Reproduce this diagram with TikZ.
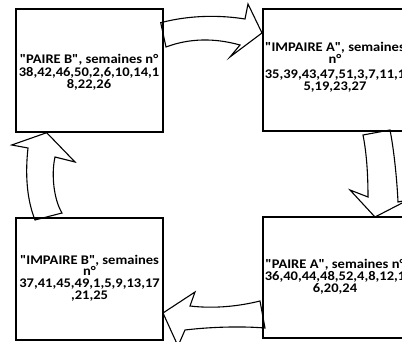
\documentclass[tikz,border=0pt]{standalone}
\usepackage{fontspec}
\setmainfont{Carlito}[FakeStretch=1.1, Ligatures=TeXOff]
\begin{document}
\begin{tikzpicture}[x=1pt,y=-1pt,
  box/.style={draw, line width=1.7pt, minimum width=147pt, minimum height=122pt, inner sep=0pt},
  ln/.style={anchor=base, inner sep=0pt, font=\bfseries\fontsize{13.2}{12}\selectfont},
  blockarrow/.style={draw, line width=1.1pt, line join=miter}]
\useasboundingbox (0,0) rectangle (402,342);
\clip (0,0) rectangle (402,342);
% block arrows (clockwise)
\draw[blockarrow] (160.7,22.7) .. controls (190,15) and (220,15) .. (245,19)
  -- (248,4) -- (262,33) -- (230,57) -- (240,45)
  .. controls (215,38) and (190,38) .. (166,47) -- cycle;
\draw[blockarrow] (390,130) .. controls (394,150) and (397,180) .. (398,202)
  -- (408,200) -- (375,217) -- (350,190) -- (368,197)
  .. controls (368,170) and (366,150) .. (363,135) -- cycle;
\draw[blockarrow] (163,313) -- (195,292) -- (190,306)
  .. controls (215,309) and (240,306) .. (260,301) -- (265,328)
  .. controls (240,326) and (210,327) .. (185,330) -- (178,346) -- cycle;
\draw[blockarrow] (46.7,132.7) -- (75,162) -- (55,157)
  .. controls (51,175) and (54,200) .. (62,213) -- (35,220)
  .. controls (27,200) and (25,175) .. (28,148) -- (11.7,145) -- cycle;
% boxes
\node[box, minimum height=123pt] (pb) at (89.5,70.5) {};
\node[box] (ia) at (336.5,70) {};
\node[box, minimum height=121pt] (pa) at (336.5,277.5) {};
\node[box] (ib) at (89.5,279) {};
% texts
\node[ln] (pb1) at (89,64)   {"PAIRE B", semaines n°};
\node[ln] (pb2) at (89,76.5) {38,42,46,50,2,6,10,14,1};
\node[ln] (pb3) at (89,88.5) {8,22,26};
\node[ln] (ia1) at (335,52)  {"IMPAIRE A", semaines};
\node[ln] (ia2) at (335,64)  {n°};
\node[ln] (ia3) at (335,79)  {35,39,43,47,51,3,7,11,1};
\node[ln] (ia4) at (335,91)  {5,19,23,27};
\node[ln] (pa1) at (335,269)   {"PAIRE A", semaines n°};
\node[ln] (pa2) at (335,280.5) {36,40,44,48,52,4,8,12,1};
\node[ln] (pa3) at (335,292)   {6,20,24};
\node[ln] (ib1) at (89.5,264)   {"IMPAIRE B", semaines};
\node[ln] (ib2) at (89.5,276)   {n°};
\node[ln] (ib3) at (89.5,287.5) {37,41,45,49,1,5,9,13,17};
\node[ln] (ib4) at (89.5,299)   {,21,25};
\end{tikzpicture}
\end{document}
